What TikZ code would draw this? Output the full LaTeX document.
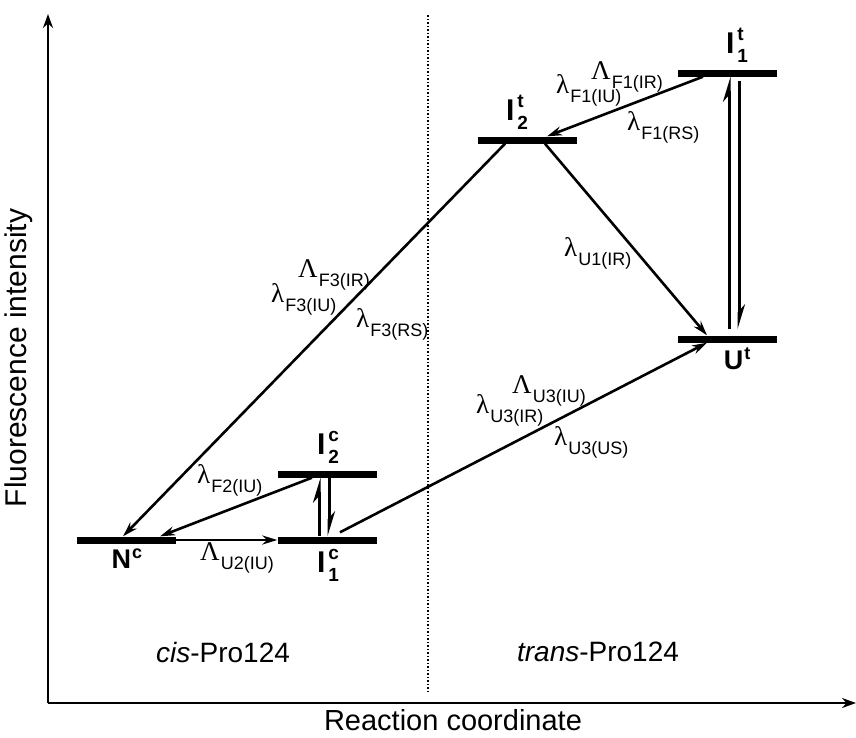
\documentclass[tikz,border=0pt]{standalone}
\usepackage{fontspec}
\setmainfont{Liberation Sans}
\newfontfamily\grk{Liberation Serif}
\usetikzlibrary{arrows.meta,calc}
\newcommand{\rate}[2]{{\fontsize{27}{27}\selectfont\grk #1}\hspace{1pt}\raisebox{-9pt}{\fontsize{18}{18}\selectfont #2}}
\newcommand{\lvl}[3]{{\fontsize{30}{30}\selectfont\bfseries #1}\hspace{3pt}\makebox[0pt][l]{\raisebox{13pt}{\fontsize{19}{19}\selectfont\bfseries #2}}\raisebox{-9pt}{\fontsize{19}{19}\selectfont\bfseries #3}}
\newcommand{\lvs}[2]{{\fontsize{27}{27}\selectfont\bfseries #1}\hspace{1pt}\raisebox{10pt}{\fontsize{18}{18}\selectfont\bfseries #2}}
\begin{document}
\begin{tikzpicture}[x=1pt,y=-1pt,
  bar/.style={fill=black,inner sep=0pt,minimum width=99pt,minimum height=7pt},
  conn/.style={line width=2.6pt,-{Stealth[length=15pt,width=9pt]}},
  harp/.style={line width=3pt,-{Stealth[harpoon,length=20pt,width=12pt]}},
  axis/.style={line width=2.4pt,-{Stealth[length=14pt,width=10pt]}},
  ratelbl/.style={anchor=base west,inner sep=0pt},
  lvllbl/.style={inner sep=0pt},
  big/.style={font=\fontsize{28}{28}\selectfont}]
\useasboundingbox (0,0) rectangle (856,737);
% axes
\coordinate (O) at (48,703);
\coordinate (Ytop) at (48,14);
\coordinate (Xend) at (856,703);
\draw[axis] (O) -- (Ytop);
\draw[axis] (O) -- (Xend);
\coordinate (Dtop) at (428,15);
\coordinate (Dbot) at (428,692);
\draw[line width=1.5pt,dotted] (Dtop) -- (Dbot);
% levels
\node[bar] (It1) at (727,73) {};
\node[bar] (It2) at (527,140) {};
\node[bar] (Ut)  at (727,339) {};
\node[bar] (Ic2) at (327,474) {};
\node[bar] (Nc)  at (126,540) {};
\node[bar] (Ic1) at (327,540) {};
% level labels
\node[lvllbl] (LIt1) at (737,45) {\lvl{I}{t}{1}};
\node[lvllbl] (LIt2) at (517,112) {\lvl{I}{t}{2}};
\node[lvllbl] (LUt)  at (737,359) {\lvs{U}{t}};
\node[lvllbl] (LIc2) at (328,447) {\lvl{I}{c}{2}};
\node[lvllbl] (LNc)  at (127,559) {\lvs{N}{c}};
\node[lvllbl] (LIc1) at (328,565) {\lvl{I}{c}{1}};
% connectors
\draw[conn] ($(It1.south)+(-24,0)$) -- ($(It2.north)+(20,0)$);
\draw[conn] ($(It2.south)+(18,0)$) -- ($(Ut.north)+(-20,0)$);
\draw[conn] ($(It2.south)+(-22,0)$) -- ($(Nc.north)+(-3,0)$);
\draw[conn] ($(Ic2.south)+(-15,0)$) -- ($(Nc.north)+(34,0)$);
\draw[conn] (Nc.east) -- (Ic1.west);
\draw[conn] ($(Ic1.north)+(13,-4)$) -- ($(Ut.south)+(-20,0)$);
\draw[harp] ($(Ic1.north)+(-8,0)$) -- ($(Ic2.south)+(-8,0)$);
\draw[harp] ($(Ic2.south)+(2,0)$) -- ($(Ic1.north)+(2,0)$);
\draw[harp] ($(Ut.north)+(2,-6)$) -- ($(It1.south)+(2,0)$);
\draw[harp] ($(It1.south)+(12,4)$) -- ($(Ut.north)+(12,-6)$);
% rate labels
\node[ratelbl] (r1) at (591,79) {\rate{Λ}{F1(IR)}};
\node[ratelbl] (r2) at (556,93) {\rate{λ}{F1(IU)}};
\node[ratelbl] (r3) at (627,130) {\rate{λ}{F1(RS)}};
\node[ratelbl] (r4) at (298,277) {\rate{Λ}{F3(IR)}};
\node[ratelbl] (r5) at (271,302) {\rate{λ}{F3(IU)}};
\node[ratelbl] (r6) at (356,327) {\rate{λ}{F3(RS)}};
\node[ratelbl] (r7) at (564,256) {\rate{λ}{U1(IR)}};
\node[ratelbl] (r8) at (512,393) {\rate{Λ}{U3(IU)}};
\node[ratelbl] (r9) at (476,413) {\rate{λ}{U3(IR)}};
\node[ratelbl] (r10) at (554,445) {\rate{λ}{U3(US)}};
\node[ratelbl] (r11) at (197,483) {\rate{λ}{F2(IU)}};
\node[ratelbl] (r12) at (200,560) {\rate{Λ}{U2(IU)}};
% region and axis labels
\node[big] (cis) at (223,652) {\textit{cis}-Pro124};
\node[big] (trans) at (598,652) {\textit{trans}-Pro124};
\node[big,font=\fontsize{30}{30}\selectfont,rotate=90] (ylab) at (19,358) {Fluorescence intensity};
\node[big,font=\fontsize{29}{29}\selectfont] (xlab) at (453,720) {Reaction coordinate};
\end{tikzpicture}
\end{document}
